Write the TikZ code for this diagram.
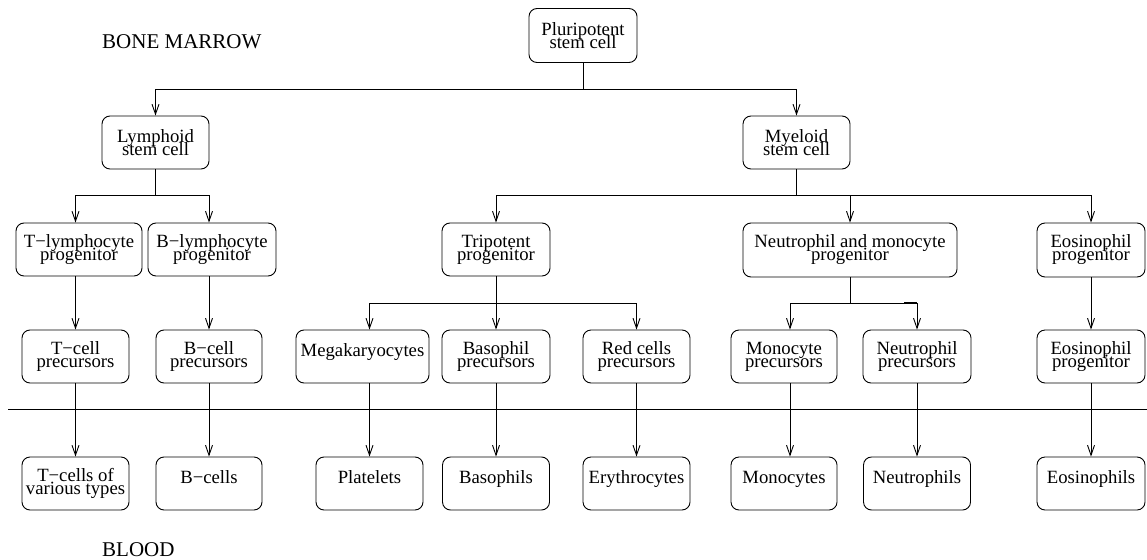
\documentclass[tikz,border=0pt]{standalone}
\usepackage{fontspec}
\setmainfont{Liberation Serif}
\usetikzlibrary{arrows.meta}
\lineskiplimit=-50pt
\tikzset{
  box/.style={draw, rounded corners=8pt, inner sep=0pt, align=center, line width=0.9pt,
    font=\fontsize{18.7}{13}\selectfont},
  link/.style={line width=0.9pt},
  arr/.style={line width=0.9pt, -{Straight Barb[length=10pt,width=7pt]}},
  zone/.style={font=\fontsize{21}{24}\selectfont, inner sep=0pt, anchor=base west}
}
\begin{document}
\begin{tikzpicture}[x=1pt,y=-1pt]
\useasboundingbox (0,0) rectangle (1147,559);
% labels
\node[zone] (bm) at (102,49) {BONE MARROW};
\node[zone] (bl) at (102,556) {BLOOD};
% level 0
\node[box, minimum width=108pt, minimum height=54pt] (plu) at (583,35.5) {Pluripotent\\stem cell};
% level 1
\node[box, minimum width=107pt, minimum height=53pt] (lym) at (155.5,142.5) {Lymphoid\\stem cell};
\node[box, minimum width=107pt, minimum height=53pt] (mye) at (796.5,142.5) {Myeloid\\stem cell};
% level 2
\node[box, minimum width=126pt, minimum height=53pt] (tlp) at (79,249.5) {T−lymphocyte\\progenitor};
\node[box, minimum width=128pt, minimum height=53pt] (blp) at (212,249.5) {B−lymphocyte\\progenitor};
\node[box, minimum width=108pt, minimum height=53pt] (tri) at (496,249.5) {Tripotent\\progenitor};
\node[box, minimum width=214pt, minimum height=54pt] (nmp) at (850,250) {Neutrophil and monocyte\\progenitor};
\node[box, minimum width=108pt, minimum height=54pt] (eop) at (1091,250) {Eosinophil\\progenitor};
% level 3
\node[box, minimum width=107pt, minimum height=53pt] (tcp) at (75.5,356.5) {T−cell\\precursors};
\node[box, minimum width=106pt, minimum height=53pt] (bcp) at (209,356.5) {B−cell\\precursors};
\node[box, minimum width=133pt, minimum height=53pt] (meg) at (362.5,356.5) {Megakaryocytes\\\mbox{}};
\node[box, minimum width=108pt, minimum height=53pt] (bap) at (496,356.5) {Basophil\\precursors};
\node[box, minimum width=107pt, minimum height=53pt] (rcp) at (636.5,356.5) {Red cells\\precursors};
\node[box, minimum width=106pt, minimum height=53pt] (mop) at (784,356.5) {Monocyte\\precursors};
\node[box, minimum width=108pt, minimum height=53pt] (nep) at (917,356.5) {Neutrophil\\precursors};
\node[box, minimum width=108pt, minimum height=53pt] (eop2) at (1091,356.5) {Eosinophil\\progenitor};
% level 4 (blood)
\node[box, minimum width=107pt, minimum height=53pt] (tc) at (75.5,483.5) {T−cells of\\various types};
\node[box, minimum width=106pt, minimum height=53pt] (bc) at (209,483.5) {B−cells\\\mbox{}};
\node[box, minimum width=107pt, minimum height=53pt] (pl) at (369.5,483.5) {Platelets\\\mbox{}};
\node[box, minimum width=107pt, minimum height=53pt] (ba) at (496,483.5) {Basophils\\\mbox{}};
\node[box, minimum width=107pt, minimum height=53pt] (er) at (636.5,483.5) {Erythrocytes\\\mbox{}};
\node[box, minimum width=106pt, minimum height=53pt] (mo) at (784,483.5) {Monocytes\\\mbox{}};
\node[box, minimum width=107pt, minimum height=53pt] (ne) at (917,483.5) {Neutrophils\\\mbox{}};
\node[box, minimum width=108pt, minimum height=53pt] (eo) at (1091,483.5) {Eosinophils\\\mbox{}};
% separator
\coordinate (sepL) at (8,409);
\coordinate (sepR) at (1147,409);
\draw[link] (sepL) -- (sepR);
% junctions
\coordinate (j0) at (583,89);
\coordinate (j1) at (155.5,195);
\coordinate (j2) at (796.5,195);
\coordinate (j3) at (496,303);
\coordinate (j4) at (850,303);
% pluripotent split
\draw[link] (plu.south) -- (j0);
\draw[arr] (j0) -| (lym.north);
\draw[arr] (j0) -| (mye.north);
% lymphoid split
\draw[link] (lym.south) -- (j1);
\draw[arr] (j1) -| (tlp.north -| tcp.north);
\draw[arr] (j1) -| (blp.north -| bcp.north);
% myeloid split
\draw[link] (mye.south) -- (j2);
\draw[arr] (j2) -| (tri.north);
\draw[arr] (j2) -| (nmp.north);
\draw[arr] (j2) -| (eop.north);
% tripotent split
\draw[link] (tri.south) -- (j3);
\draw[arr] (j3) -| (meg.north -| pl.north);
\draw[arr] (j3) -- (bap.north);
\draw[arr] (j3) -| (rcp.north);
% neutrophil/monocyte split
\draw[link] (nmp.south) -- (j4);
\draw[arr] (j4) -| ([xshift=6pt]mop.north);
\draw[arr] (j4) -| (nep.north);
\draw[line width=1.8pt] ([xshift=-13pt]j4 -| nep.north) -- (j4 -| nep.north);
% progenitor to precursor
\draw[arr] (tlp.south -| tcp.north) -- (tcp.north);
\draw[arr] (blp.south -| bcp.north) -- (bcp.north);
\draw[arr] (eop.south) -- (eop2.north);
% precursor to blood
\draw[arr] (tcp.south) -- (tc.north);
\draw[arr] (bcp.south) -- (bc.north);
\draw[arr] (meg.south -| pl.north) -- (pl.north);
\draw[arr] (bap.south) -- (ba.north);
\draw[arr] (rcp.south) -- (er.north);
\draw[arr] ([xshift=6pt]mop.south) -- ([xshift=6pt]mo.north);
\draw[arr] (nep.south) -- (ne.north);
\draw[arr] (eop2.south) -- (eo.north);
\end{tikzpicture}
\end{document}
